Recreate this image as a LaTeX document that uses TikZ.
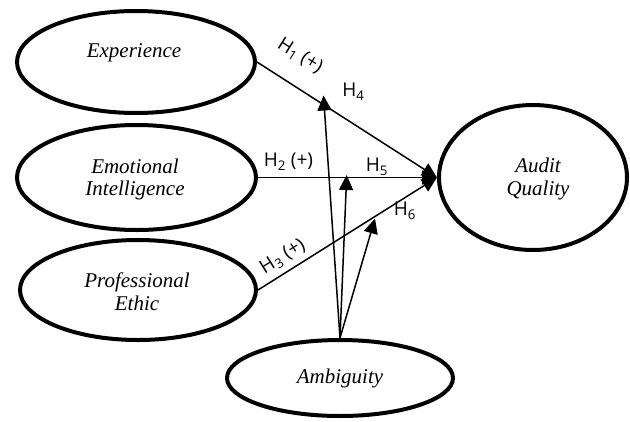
\documentclass[tikz,border=0pt]{standalone}
\usepackage{fontspec}
\setmainfont{Liberation Serif}
\newfontfamily\hfont{Open Sans}
\usetikzlibrary{shapes.geometric,arrows.meta}
\begin{document}
\begin{tikzpicture}[x=1pt,y=-1pt,
  var/.style={ellipse,draw,line width=4pt,inner sep=0pt},
  vtxt/.style={anchor=base,font=\fontsize{21}{23}\selectfont\itshape,inner sep=0pt},
  hyp/.style={font=\hfont\fontsize{19}{22}\selectfont,inner sep=0pt},
  link/.style={line width=1.5pt,-{Triangle[length=15pt,width=14pt]}}
]
\useasboundingbox (0,0) rectangle (630,421);

% constructs
\node[var,minimum width=238pt,minimum height=102pt] (exp) at (136,62) {};
\node[var,minimum width=239pt,minimum height=105pt] (ei)  at (136.5,177.5) {};
\node[var,minimum width=236pt,minimum height=100pt] (pe)  at (138,290) {};
\node[var,minimum width=226pt,minimum height=76pt]  (amb) at (340,378) {};
\node[var,minimum width=188pt,minimum height=145pt] (aq)  at (533,177.5) {};

% texts
\node[vtxt] (t1)  at (134,57)  {Experience};
\node[vtxt] (t2a) at (135,173) {Emotional};
\node[vtxt] (t2b) at (135,195) {Intelligence};
\node[vtxt] (t3a) at (137,287) {Professional};
\node[vtxt] (t3b) at (137,310) {Ethic};
\node[vtxt] (t4)  at (340,383) {Ambiguity};
\node[vtxt] (t5a) at (538,172) {Audit};
\node[vtxt] (t5b) at (538,195) {Quality};

% moderation targets
\coordinate (m1) at (323.5,95.5);
\coordinate (m2) at (346.7,175);
\coordinate (m3) at (375,218.5);

% direct paths
\draw[link] (exp.east) -- (aq.west);
\draw[link] (ei.east) -- (aq.west);
\draw[link] (pe.east) -- (aq.west);

% moderating paths
\draw[link] (amb.north) -- (m1);
\draw[link] (amb.north) -- (m2);
\draw[link] (amb.north) -- (m3);

% labels
\node[hyp,rotate=-32] (h1) at (300,56)   {H\textsubscript{1} (+)};
\node[hyp]            (h2) at (288.5,162) {H\textsubscript{2} (+)};
\node[hyp,rotate=32]  (h3) at (283,257)  {H\textsubscript{3} (+)};
\node[hyp]            (h4) at (353.5,91.5) {H\textsubscript{4}};
\node[hyp]            (h5) at (377,167)  {H\textsubscript{5}};
\node[hyp]            (h6) at (405,211)  {H\textsubscript{6}};
\end{tikzpicture}
\end{document}
